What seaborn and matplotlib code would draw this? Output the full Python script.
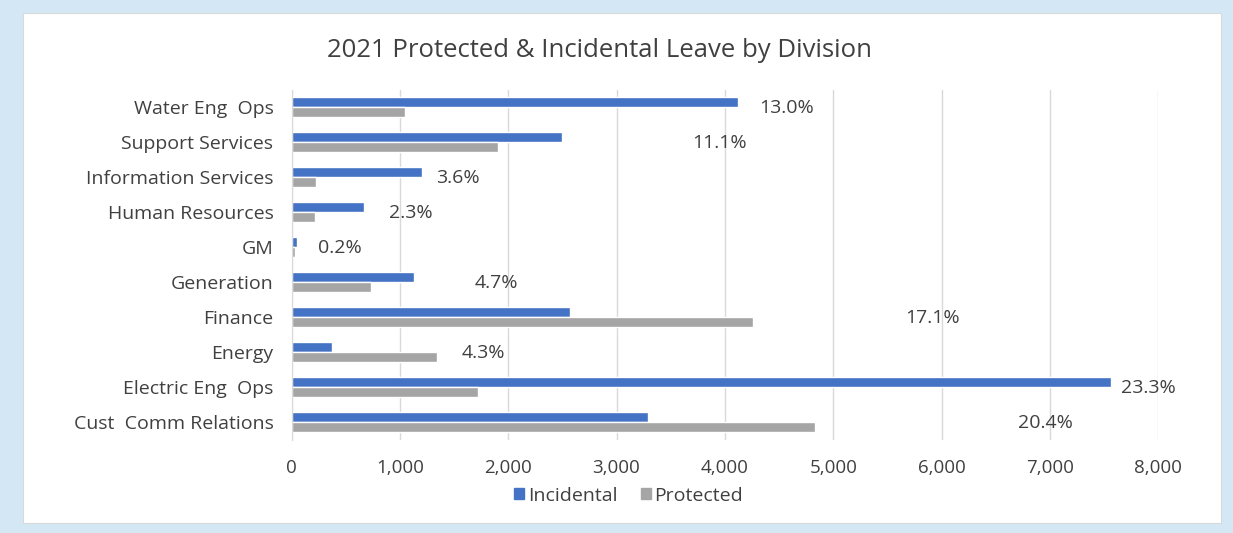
import numpy as np
import pandas as pd

import matplotlib.pyplot as plt
import matplotlib.ticker as mticker
from matplotlib.patches import Rectangle
import seaborn as sns

# values (hours of leave per division)
divisions = ["Water Eng  Ops", "Support Services", "Information Services", "Human Resources",
             "GM", "Generation", "Finance", "Energy", "Electric Eng  Ops", "Cust  Comm Relations"]
incidental = [4120, 2495, 1200, 670, 50, 1135, 2570, 370, 7565, 3290]
protected = [1045, 1905, 230, 215, 30, 730, 4260, 1345, 1725, 4830]
share_labels = ["13.0%", "11.1%", "3.6%", "2.3%", "0.2%", "4.7%", "17.1%", "4.3%", "23.3%", "20.4%"]
x_ticks = [0, 1000, 2000, 3000, 4000, 5000, 6000, 7000, 8000]

blue = "#4472C4"
gray = "#A5A5A5"
text_col = "#404040"

# long format for seaborn
df = pd.DataFrame({
    "Division": divisions * 2,
    "Leave": incidental + protected,
    "Type": ["Incidental"] * len(divisions) + ["Protected"] * len(divisions),
})
totals = np.array(incidental) + np.array(protected)

sns.set_style("white")
plt.rcParams["font.family"] = ["Open Sans", "DejaVu Sans"]

fig = plt.figure(figsize=(12.33, 5.33), dpi=100, facecolor="#D3E8F4")
# white inner panel
fig.patches.append(Rectangle((23 / 1233, 1 - 523 / 533), 1198 / 1233, 510 / 533,
                             transform=fig.transFigure, facecolor="white",
                             edgecolor="#D9D9D9", linewidth=0.8, zorder=-5))

ax = fig.add_axes([291.5 / 1233, 93.5 / 533, 866.8 / 1233, 350 / 533])
ax.set_facecolor("none")

sns.barplot(data=df, y="Division", x="Leave", hue="Type", orient="h",
            palette=[blue, gray], width=0.57, ax=ax, legend=False, saturation=1)

ax.set_xlim(0, 8000)
ax.set_xticks(x_ticks)
ax.xaxis.set_major_formatter(mticker.StrMethodFormatter("{x:,.0f}"))
ax.grid(axis="x", color="#D9D9D9", linewidth=1)
ax.set_axisbelow(True)
for s in ["top", "right", "bottom"]:
    ax.spines[s].set_visible(False)
ax.spines["left"].set_color("#D9D9D9")
ax.tick_params(axis="y", length=0, labelsize=14, colors=text_col, pad=13)
ax.tick_params(axis="x", length=0, labelsize=13.5, colors=text_col, pad=14)
ax.set_xlabel("")
ax.set_ylabel("")

# share labels sit on a secondary scale, like the Excel original
ax2 = ax.twiny()
ax2.set_xlim(-470, 9400)
ax2.axis("off")
for i, (t, lab) in enumerate(zip(totals, share_labels)):
    ax2.text(t, i + 0.02, lab, ha="center", va="center", fontsize=14, color=text_col)

fig.text(0.486, 0.905, "2021 Protected & Incidental Leave by Division",
         ha="center", va="center", fontsize=18.5, color=text_col)

handles = [Rectangle((0, 0), 1, 1, color=blue), Rectangle((0, 0), 1, 1, color=gray)]
fig.legend(handles, ["Incidental", "Protected"], loc="center", bbox_to_anchor=(0.51, 0.07),
           ncol=2, frameon=False, fontsize=14, handlelength=0.5, handleheight=0.5,
           handletextpad=0.2, columnspacing=1.2, labelcolor=text_col)

fig.savefig("out.png", dpi=100, facecolor=fig.get_facecolor())
